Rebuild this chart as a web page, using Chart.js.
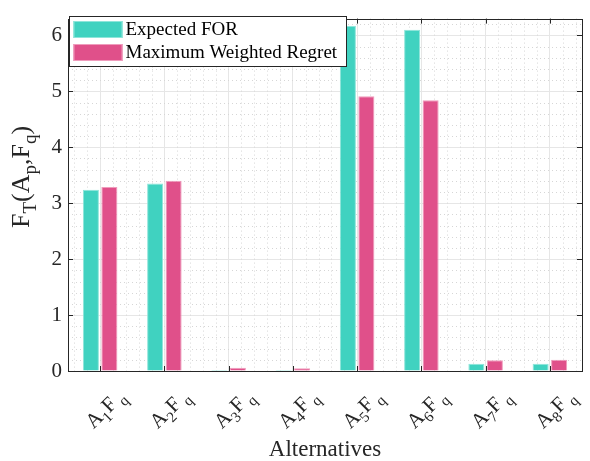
<!DOCTYPE html>
<html>
<head>
<meta charset="utf-8">
<script src="https://cdn.jsdelivr.net/npm/chart.js@4.4.0/dist/chart.umd.min.js"></script>
<style>
  body { margin: 0; background: #fff; }
  #wrap { width: 590px; height: 461px; }
</style>
</head>
<body>
<div id="wrap"><canvas id="myChart" width="590" height="461"></canvas></div>
<script>
// data
var alternatives = ['A_1F_{ q}', 'A_2F_{ q}', 'A_3F_{ q}', 'A_4F_{ q}', 'A_5F_{ q}', 'A_6F_{ q}', 'A_7F_{ q}', 'A_8F_{ q}'];
var expectedFOR = [3.24, 3.35, 0.02, 0.02, 6.17, 6.10, 0.13, 0.13];
var maxWeightedRegret = [3.29, 3.40, 0.06, 0.05, 4.91, 4.84, 0.19, 0.20];
var yTicks = [0, 1, 2, 3, 4, 5, 6];
var yMax = 6.3;
var xTitle = 'Alternatives';
var yTitle = 'F_T(A_p,F_q)';

var FONT = '"Liberation Serif", "Times New Roman", serif';
var INK = '#262626';

// split "A_1F_{ q}" into normal / subscript pieces
function parseRich(str) {
    var out = [], i = 0;
    while (i < str.length) {
        if (str[i] === '_') {
            if (str[i + 1] === '{') {
                var end = str.indexOf('}', i);
                out.push({ t: str.slice(i + 2, end), sub: true });
                i = end + 1;
            } else {
                out.push({ t: str[i + 1], sub: true });
                i += 2;
            }
        } else {
            var j = i;
            while (j < str.length && str[j] !== '_') j++;
            out.push({ t: str.slice(i, j), sub: false });
            i = j;
        }
    }
    return out;
}

// draws rich text centred on 0,0 in the current (maybe rotated) frame
function drawRich(ctx, str, size) {
    var parts = parseRich(str);
    var subSize = Math.round(size * 0.72);
    var total = 0;
    parts.forEach(function (p) {
        ctx.font = (p.sub ? subSize : size) + 'px ' + FONT;
        p.w = ctx.measureText(p.t).width;
        total += p.w;
    });
    var x = -total / 2;
    ctx.textBaseline = 'alphabetic';
    ctx.textAlign = 'left';
    parts.forEach(function (p) {
        ctx.font = (p.sub ? subSize : size) + 'px ' + FONT;
        ctx.fillText(p.t, x, p.sub ? size * 0.58 : size * 0.3);
        x += p.w;
    });
}

var matlabLook = {
    id: 'matlabLook',
    beforeDraw: function (chart) {
        var ctx = chart.ctx;
        ctx.save();
        ctx.fillStyle = 'white';
        ctx.fillRect(0, 0, chart.width, chart.height);
        ctx.restore();
    },
    beforeDatasetsDraw: function (chart) {
        // dotted minor grid
        var ctx = chart.ctx, a = chart.chartArea;
        var xs = chart.scales.x, ys = chart.scales.y;
        var step = xs.getPixelForValue(1) - xs.getPixelForValue(0);
        ctx.save();
        ctx.strokeStyle = '#d6d6d6';
        ctx.lineWidth = 1;
        ctx.setLineDash([1, 3]);
        ctx.beginPath();
        var x0 = xs.getPixelForValue(0);
        for (var k = -1; k <= alternatives.length; k++) {
            for (var m = 1; m < 5; m++) {
                var x = Math.round(x0 + k * step + m * step / 5) + 0.5;
                if (x <= a.left || x >= a.right) continue;
                ctx.moveTo(x, a.top);
                ctx.lineTo(x, a.bottom);
            }
        }
        for (var v = 0.2; v < yMax; v += 0.2) {
            if (Math.abs(v - Math.round(v)) < 0.01) continue;
            var y = Math.round(ys.getPixelForValue(v)) + 0.5;
            ctx.moveTo(a.left, y);
            ctx.lineTo(a.right, y);
        }
        ctx.stroke();
        ctx.restore();
    },
    afterDatasetsDraw: function (chart) {
        var ctx = chart.ctx, a = chart.chartArea;
        var xs = chart.scales.x, ys = chart.scales.y;
        ctx.save();
        // box
        ctx.strokeStyle = INK;
        ctx.lineWidth = 1;
        ctx.strokeRect(Math.round(a.left) + 0.5, Math.round(a.top) + 0.5,
            Math.round(a.right - a.left), Math.round(a.bottom - a.top));
        // inward ticks
        ctx.beginPath();
        for (var i = 0; i < alternatives.length; i++) {
            var x = Math.round(xs.getPixelForValue(i)) + 0.5;
            ctx.moveTo(x, a.bottom); ctx.lineTo(x, a.bottom - 5);
            ctx.moveTo(x, a.top); ctx.lineTo(x, a.top + 5);
        }
        yTicks.forEach(function (v) {
            var y = Math.round(ys.getPixelForValue(v)) + 0.5;
            ctx.moveTo(a.left, y); ctx.lineTo(a.left + 5, y);
            ctx.moveTo(a.right, y); ctx.lineTo(a.right - 5, y);
        });
        ctx.stroke();

        // legend
        var lx = Math.round(a.left) + 1.5, ly = 16.5, lw = 277, lh = 50;
        ctx.fillStyle = 'white';
        ctx.fillRect(lx, ly, lw, lh);
        ctx.strokeStyle = INK;
        ctx.strokeRect(lx, ly, lw, lh);
        chart.data.datasets.forEach(function (ds, n) {
            var sy = ly + 4.5 + n * 23;
            ctx.fillStyle = ds.backgroundColor;
            ctx.fillRect(lx + 4, sy, 49, 17);
            ctx.strokeStyle = ds.borderColor;
            ctx.strokeRect(lx + 4.5, sy + 0.5, 48, 16);
            ctx.fillStyle = '#000';
            ctx.font = '19px ' + FONT;
            ctx.textBaseline = 'middle';
            ctx.textAlign = 'left';
            ctx.fillText(ds.label, lx + 56, sy + 9);
        });

        // x tick labels, rotated 45 degrees
        ctx.fillStyle = INK;
        for (var j = 0; j < alternatives.length; j++) {
            ctx.save();
            ctx.translate(xs.getPixelForValue(j) + 5, a.bottom + 38);
            ctx.rotate(-Math.PI / 4);
            drawRich(ctx, alternatives[j], 21);
            ctx.restore();
        }
        // axis titles
        ctx.save();
        ctx.fillStyle = INK;
        ctx.font = '23px ' + FONT;
        ctx.textAlign = 'center';
        ctx.textBaseline = 'middle';
        ctx.fillText(xTitle, (a.left + a.right) / 2, 450);
        ctx.restore();
        ctx.save();
        ctx.fillStyle = INK;
        ctx.translate(21, 177);
        ctx.rotate(-Math.PI / 2);
        drawRich(ctx, yTitle, 26);
        ctx.restore();
        ctx.restore();
    }
};

var ctx = document.getElementById('myChart').getContext('2d');
var myChart = new Chart(ctx, {
    type: 'bar',
    data: {
        labels: alternatives,
        datasets: [{
            label: 'Expected FOR',
            data: expectedFOR,
            backgroundColor: '#40d2c0',
            borderColor: '#8ee5da',
            borderWidth: 1
        }, {
            label: 'Maximum Weighted Regret',
            data: maxWeightedRegret,
            backgroundColor: '#e0508a',
            borderColor: '#ef9cbc',
            borderWidth: 1
        }]
    },
    options: {
        responsive: false,
        animation: false,
        devicePixelRatio: 1,
        layout: { padding: { top: 7, right: 8, left: 0, bottom: 0 } },
        categoryPercentage: 0.575,
        barPercentage: 0.87,
        plugins: {
            legend: { display: false },
            tooltip: { enabled: false }
        },
        scales: {
            x: {
                grid: { offset: false, color: '#e6e6e6', drawTicks: false },
                border: { display: false },
                ticks: { display: false },
                afterFit: function (scale) { scale.height = 90; }
            },
            y: {
                min: 0,
                max: yMax,
                afterBuildTicks: function (scale) {
                    scale.ticks = yTicks.map(function (v) { return { value: v }; });
                },
                grid: { color: '#e6e6e6', drawTicks: false },
                border: { display: false },
                ticks: {
                    color: INK,
                    padding: 6,
                    font: { family: FONT, size: 21 }
                },
                afterFit: function (scale) { scale.width = 68; }
            }
        }
    },
    plugins: [matlabLook]
});
</script>
</body>
</html>
